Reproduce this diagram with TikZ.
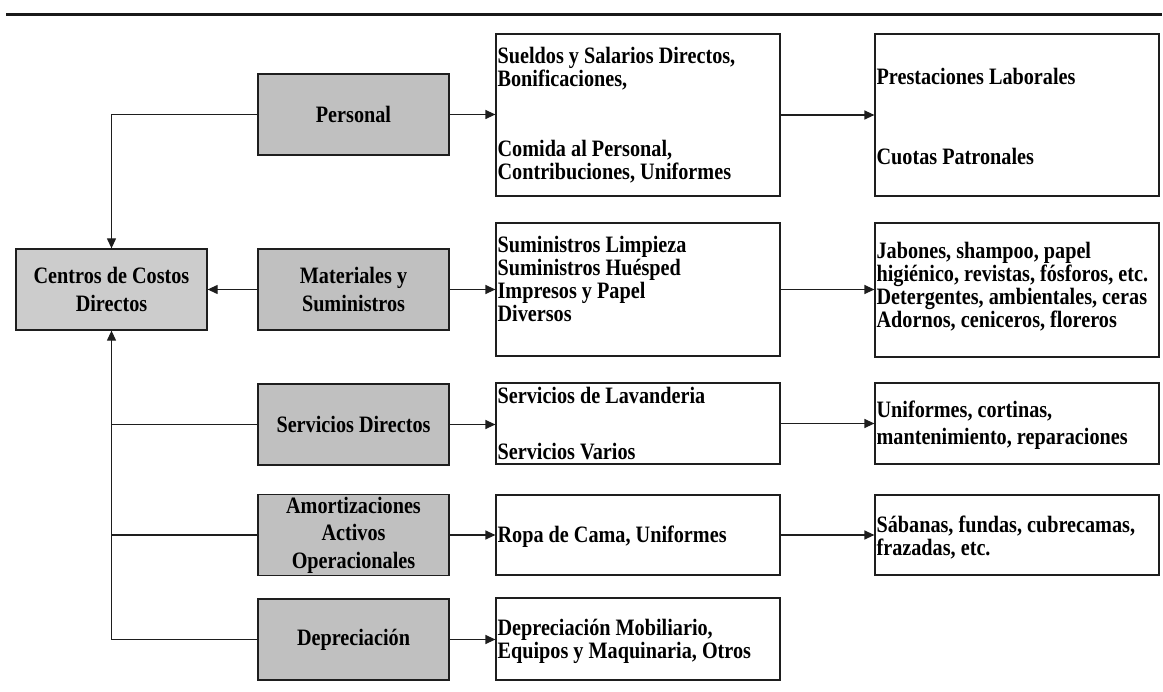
\documentclass[tikz,border=0pt]{standalone}
\usepackage{fontspec}
\setmainfont{Liberation Serif}[FakeStretch=0.86]
\usetikzlibrary{arrows.meta}

\definecolor{boxgray}{RGB}{192,192,192}
\definecolor{centergray}{RGB}{204,204,204}
\definecolor{linegray}{RGB}{30,30,30}

\newcommand{\itemfont}{\fontsize{23.5}{23}\selectfont\bfseries}
\newcommand{\catfont}{\fontsize{23.5}{27.5}\selectfont\bfseries}

\begin{document}
\begin{tikzpicture}[x=1pt,y=-1pt,
  catbox/.style={draw=linegray, line width=1.3pt, fill=boxgray,
    minimum width=191pt, minimum height=81pt, inner sep=0pt,
    align=center, font=\catfont},
  itembox/.style={draw=linegray, line width=1.2pt, fill=white,
    minimum width=284pt, inner sep=0pt},
  itemtext/.style={anchor=west, inner xsep=2pt, inner ysep=0pt,
    align=left, font=\itemfont},
  link/.style={draw=linegray, line width=1.2pt},
  tip/.style={-{Triangle[length=10pt,width=9pt]}}
]
\useasboundingbox (0,0) rectangle (1163,692);

% heading rule
\draw[line width=3pt, black!90] (6,14.5) -- (1162,14.5);

% cost categories
\node[catbox, fill=centergray] (centros) at (111.5,289.5) {Centros de Costos\\Directos};
\node[catbox] (personal)   at (353.5,114.5) {Personal};
\node[catbox] (materiales) at (353.5,289.5) {Materiales y\\Suministros};
\node[catbox] (servicios)  at (353.5,424.5) {Servicios Directos};
\node[catbox] (amort)      at (353.5,535)   {Amortizaciones\\Activos\\Operacionales};
\node[catbox] (deprec)     at (353.5,639.5) {Depreciación};

% first column of items
\node[itembox, minimum height=162pt] (sueldos)     at (638,115)   {};
\node[itembox, minimum height=133pt] (suministros) at (638,289.5) {};
\node[itembox, minimum height=81pt]  (lavanderia)  at (638,423.5) {};
\node[itembox, minimum height=80pt]  (ropa)        at (638,535)   {};
\node[itembox, minimum height=82pt]  (mobiliario)  at (638,639)   {};

% second column of items
\node[itembox, minimum height=162pt] (prestaciones) at (1017,115)   {};
\node[itembox, minimum height=134pt] (jabones)      at (1017,290)   {};
\node[itembox, minimum height=81pt]  (uniformes)    at (1017,423.5) {};
\node[itembox, minimum height=80pt]  (sabanas)      at (1017,535)   {};

% item texts
\node[itemtext, yshift=0pt] (t-sueldos) at (sueldos.west)
  {Sueldos y Salarios Directos,\\Bonificaciones,\\[47pt]Comida al Personal,\\Contribuciones, Uniformes};
\node[itemtext, yshift=10.5pt] (t-suministros) at (suministros.west)
  {Suministros Limpieza\\Suministros Huésped\\Impresos y Papel\\Diversos};
\node[itemtext, yshift=0pt] (t-lavanderia) at (lavanderia.west)
  {Servicios de Lavanderia\\[33pt]Servicios Varios};
\node[itemtext, yshift=-2pt] (t-ropa) at (ropa.west) {Ropa de Cama, Uniformes};
\node[itemtext, yshift=-2pt] (t-mobiliario) at (mobiliario.west)
  {Depreciación Mobiliario,\\Equipos y Maquinaria, Otros};
\node[itemtext, yshift=-1.4pt] (t-prestaciones) at (prestaciones.west)
  {Prestaciones Laborales\\[57pt]Cuotas Patronales};
\node[itemtext, yshift=3pt] (t-jabones) at (jabones.west)
  {Jabones, shampoo, papel\\higiénico, revistas, fósforos, etc.\\Detergentes, ambientales, ceras\\Adornos, ceniceros, floreros};
\node[itemtext, yshift=-2pt] (t-uniformes) at (uniformes.west)
  {Uniformes, cortinas,\\[4pt]mantenimiento, reparaciones};
\node[itemtext, yshift=-3pt] (t-sabanas) at (sabanas.west)
  {Sábanas, fundas, cubrecamas,\\frazadas, etc.};

% links into the cost centre
\draw[link, tip] (personal.west) -| (centros.north);
\draw[link, tip] (materiales.west) -- (centros.east);
\draw[link, tip] (deprec.west) -| (centros.south);
\draw[link] (servicios.west) -- (servicios.west -| centros.south);
\draw[link] (amort.west) -- (amort.west -| centros.south);

% links from categories to items
\draw[link, tip] (personal.east)   -- (personal.east -| sueldos.west);
\draw[link, tip] (materiales.east) -- (materiales.east -| suministros.west);
\draw[link, tip] (servicios.east)  -- (servicios.east -| lavanderia.west);
\draw[link, tip] (amort.east)      -- (amort.east -| ropa.west);
\draw[link, tip] (deprec.east)     -- (deprec.east -| mobiliario.west);

% links between item columns
\draw[link, tip] (sueldos.east)     -- (sueldos.east -| prestaciones.west);
\draw[link, tip] (suministros.east) -- (suministros.east -| jabones.west);
\draw[link, tip] (lavanderia.east)  -- (lavanderia.east -| uniformes.west);
\draw[link, tip] (ropa.east)        -- (ropa.east -| sabanas.west);
\end{tikzpicture}
\end{document}
